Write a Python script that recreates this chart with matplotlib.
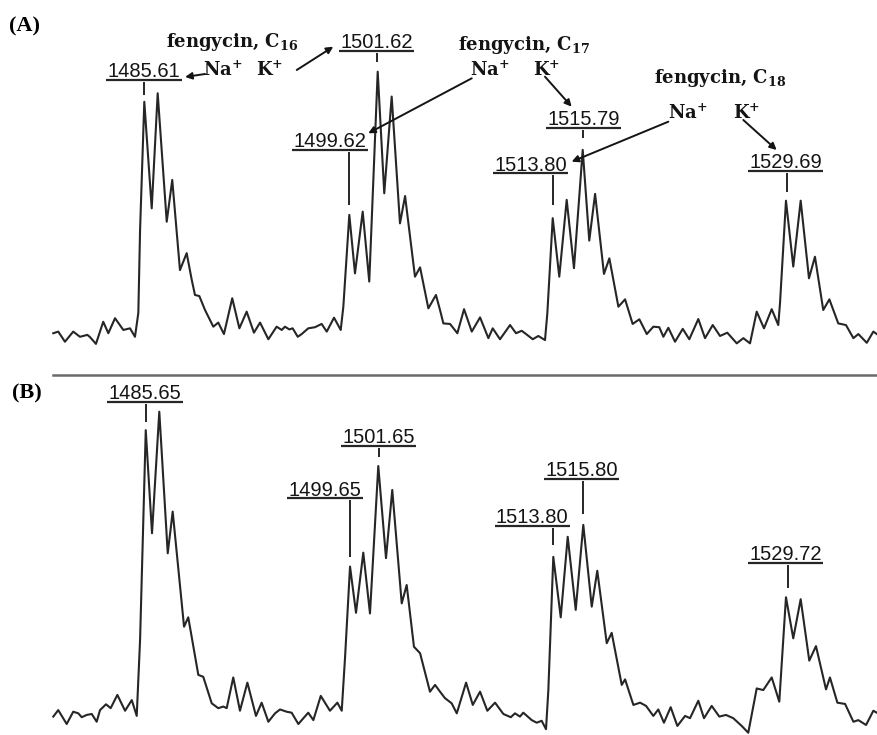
#
# Mass spectra of fengycin homologues (C16 - C18), Na+ and K+ adducts.
# Panel (A) and panel (B) share the same m/z window.
#

import numpy as np
import matplotlib.pyplot as plt
from matplotlib.lines import Line2D

LINE_COLOR = "#262626"
TEXT_COLOR = "#141414"
SEP_COLOR = "#6A6A6A"

MZ_RANGE = (1475.64, 1535.94)

# ---- panel A spectrum (m/z, relative intensity %) ----
MZ_A = [1479.30, 1479.64, 1480.10, 1480.67, 1481.13, 1481.36, 1481.64, 1481.82,
        1482.23, 1482.73, 1483.08, 1483.54, 1484.11, 1484.57, 1484.91, 1485.14,
        1485.26, 1485.55, 1486.06, 1486.47, 1487.09, 1487.47, 1488.00, 1488.46,
        1488.81, 1489.03, 1489.33, 1489.72, 1490.29, 1490.63, 1491.02, 1491.59,
        1492.08, 1492.58, 1493.08, 1493.50, 1494.07, 1494.64, 1494.99, 1495.21,
        1495.51, 1495.74, 1496.09, 1496.36, 1496.81, 1497.27, 1497.73, 1498.08,
        1498.58, 1499.04, 1499.22, 1499.63, 1500.02, 1500.55, 1501.00, 1501.58,
        1502.03, 1502.54, 1503.11, 1503.46, 1504.14, 1504.49, 1505.06, 1505.58,
        1505.86, 1506.09, 1506.55, 1507.05, 1507.51, 1508.04, 1508.61, 1509.18,
        1509.48, 1509.98, 1510.67, 1511.08, 1511.47, 1511.77, 1512.23, 1512.61,
        1513.07, 1513.23, 1513.60, 1514.05, 1514.56, 1515.06, 1515.66, 1516.11,
        1516.51, 1517.12, 1517.49, 1518.11, 1518.57, 1519.09, 1519.55, 1520.06,
        1520.51, 1520.92, 1521.20, 1521.54, 1522.00, 1522.53, 1522.98, 1523.60,
        1524.06, 1524.59, 1525.09, 1525.59, 1526.24, 1526.69, 1527.15, 1527.61,
        1528.11, 1528.64, 1529.09, 1529.21, 1529.62, 1530.12, 1530.63, 1531.20,
        1531.61, 1532.18, 1532.60, 1533.21, 1533.74, 1534.25, 1534.59, 1535.17,
        1535.62, 1535.94]
INT_A = [4.3, 4.9, 1.2, 4.9, 3.0, 3.3, 3.7, 2.9,
         0.4, 8.5, 4.3, 9.8, 5.5, 6.1, 3.0, 11.7,
         42.1, 89.0, 50.0, 92.1, 45.1, 60.4, 27.4, 33.6,
         23.8, 18.3, 17.9, 12.8, 6.7, 8.2, 4.0, 17.1,
         6.1, 12.2, 4.5, 8.2, 2.1, 6.7, 5.5, 6.7,
         5.7, 6.1, 3.0, 4.0, 6.1, 6.5, 7.7, 4.9,
         10.0, 5.5, 14.0, 47.6, 26.2, 48.8, 23.2, 100.0,
         55.5, 90.9, 44.5, 54.5, 25.0, 28.4, 13.4, 18.3,
         12.8, 7.9, 7.7, 4.3, 13.1, 4.9, 10.1, 2.5,
         6.1, 2.1, 7.3, 4.3, 5.2, 4.0, 2.1, 3.3,
         1.8, 11.6, 46.4, 25.0, 53.1, 28.1, 71.4, 38.2,
         55.3, 26.0, 31.7, 14.0, 16.7, 7.7, 9.4, 4.0,
         6.7, 6.5, 3.0, 6.3, 1.2, 5.9, 2.1, 9.5,
         2.5, 7.3, 3.3, 4.5, 0.6, 2.5, 0.6, 12.2,
         6.1, 13.1, 7.3, 15.3, 52.8, 28.7, 52.8, 24.4,
         32.3, 12.8, 16.7, 7.9, 7.3, 2.5, 4.0, 0.8,
         4.9, 3.7]

# ---- panel B spectrum ----
MZ_B = [1479.30, 1479.64, 1480.22, 1480.67, 1481.02, 1481.25, 1481.59, 1481.94,
        1482.28, 1482.51, 1482.92, 1483.24, 1483.70, 1484.23, 1484.69, 1485.03,
        1485.26, 1485.65, 1486.08, 1486.58, 1487.16, 1487.50, 1488.28, 1488.57,
        1489.26, 1489.60, 1490.18, 1490.63, 1490.98, 1491.21, 1491.66, 1492.12,
        1492.63, 1493.22, 1493.61, 1494.07, 1494.53, 1494.87, 1495.33, 1495.67,
        1496.13, 1496.81, 1497.16, 1497.67, 1498.30, 1498.81, 1499.11, 1499.34,
        1499.68, 1500.09, 1500.59, 1501.05, 1501.62, 1502.15, 1502.58, 1503.23,
        1503.57, 1504.07, 1504.49, 1505.17, 1505.52, 1505.86, 1506.20, 1506.66,
        1507.01, 1507.65, 1508.11, 1508.61, 1509.11, 1509.64, 1510.21, 1510.72,
        1511.01, 1511.35, 1511.58, 1512.16, 1512.50, 1512.84, 1513.14, 1513.30,
        1513.53, 1513.64, 1514.15, 1514.63, 1515.18, 1515.70, 1516.28, 1516.66,
        1517.31, 1517.65, 1518.34, 1518.57, 1519.14, 1519.60, 1520.01, 1520.51,
        1520.85, 1521.24, 1521.70, 1522.16, 1522.69, 1523.03, 1523.60, 1523.99,
        1524.52, 1525.04, 1525.50, 1526.00, 1526.58, 1527.03, 1527.61, 1528.06,
        1528.64, 1529.16, 1529.62, 1530.12, 1530.63, 1531.22, 1531.68, 1532.37,
        1532.64, 1533.15, 1533.68, 1534.25, 1534.59, 1535.12, 1535.62, 1535.94]
INT_B = [5.7, 7.7, 3.4, 7.2, 6.7, 5.5, 6.2, 6.5,
         4.1, 7.7, 9.5, 8.3, 12.4, 7.5, 10.8, 5.9,
         29.4, 94.3, 62.4, 100.0, 56.2, 69.1, 33.5, 36.4,
         18.6, 18.0, 9.8, 8.3, 8.8, 8.3, 17.8, 7.5,
         16.2, 5.9, 10.0, 4.1, 6.7, 7.9, 7.2, 6.9,
         3.4, 6.9, 4.6, 12.1, 7.5, 10.0, 7.5, 24.2,
         52.1, 37.8, 56.4, 37.6, 83.2, 54.7, 75.8, 40.7,
         46.4, 27.3, 25.3, 13.4, 15.5, 13.4, 11.4, 9.8,
         6.7, 16.2, 9.3, 13.4, 7.5, 10.0, 6.5, 5.5,
         6.7, 5.7, 6.9, 4.6, 3.8, 4.4, 1.8, 13.9,
         41.8, 55.1, 36.4, 61.3, 38.7, 65.0, 39.7, 50.8,
         28.4, 31.6, 15.5, 17.2, 9.3, 10.0, 9.0, 5.9,
         7.9, 3.8, 8.6, 2.8, 5.9, 5.2, 10.6, 5.2,
         9.0, 5.7, 6.2, 5.2, 2.8, 0.7, 14.4, 13.9,
         17.8, 10.3, 42.6, 29.9, 42.0, 23.0, 27.5, 14.1,
         17.8, 10.0, 9.6, 4.1, 4.6, 3.1, 7.5, 6.7]

# ---- peak labels: text and the m/z where the marker tick sits ----
LABELS_A = ["1485.61", "1501.62", "1499.62", "1513.80", "1515.79", "1529.69"]
TICKS_A = [1485.55, 1501.51, 1499.63, 1513.60, 1515.66, 1529.67]
LABELS_B = ["1485.65", "1501.65", "1499.65", "1513.80", "1515.80", "1529.72"]
TICKS_B = [1485.67, 1501.67, 1499.68, 1513.64, 1515.66, 1529.74]

# layout of the labels: (text centre m/z, underline height, tick lower end)
LAYOUT_A = [(1485.53, 96.96, 91.47), (1501.51, 107.68, 103.55),
            (1498.30, 71.35, 51.22), (1512.10, 62.82, 51.22),
            (1515.70, 79.51, 75.74), (1529.61, 63.67, 56.09)]
LAYOUT_B = [(1485.60, 103.09, 96.81), (1501.62, 89.39, 85.99),
            (1497.96, 73.21, 55.15), (1512.19, 64.74, 58.77),
            (1515.59, 79.18, 68.36), (1529.59, 53.29, 45.38)]

UNDERLINE_HALF = 2.58   # in m/z units

# fengycin homologue annotations in panel A: (text, x, baseline y)
SPECIES_TEXT = [(r"fengycin, C$_\mathbf{16}$", 1491.55, 109.0),
                (r"Na$^\mathbf{+}$", 1490.92, 98.4), (r"K$^\mathbf{+}$", 1494.15, 98.4),
                (r"fengycin, C$_\mathbf{17}$", 1511.64, 107.9),
                (r"Na$^\mathbf{+}$", 1509.29, 98.4), (r"K$^\mathbf{+}$", 1513.19, 98.4),
                (r"fengycin, C$_\mathbf{18}$", 1525.09, 95.75),
                (r"Na$^\mathbf{+}$", 1522.86, 82.6), (r"K$^\mathbf{+}$", 1526.92, 82.6)]

# arrows: (start, end)
ARROWS = [((1489.72, 99.16), (1488.35, 98.06)),
          ((1496.02, 100.62), (1498.53, 109.15)),
          ((1508.04, 97.58), (1500.93, 77.46)),
          ((1513.07, 98.17), (1514.90, 87.19)),
          ((1521.54, 81.70), (1514.90, 67.07)),
          ((1526.69, 82.33), (1528.98, 71.35))]


def drawPeakLabels(ax, labels, ticks, layout, gap):
    for text, tick, (cx, yul, ylow) in zip(labels, ticks, layout):
        ax.vlines(tick, ylow, yul - gap, color=LINE_COLOR, lw=1.4)
        ax.hlines(yul, cx - UNDERLINE_HALF, cx + UNDERLINE_HALF,
                  color=LINE_COLOR, lw=1.6)
        ax.annotate(text, (cx, yul), xytext=(0, 2), textcoords='offset points',
                    ha='center', va='baseline', fontsize=14.5,
                    family='Liberation Sans', color=TEXT_COLOR)


def main():
    plt.rcParams['mathtext.fontset'] = 'dejavuserif'

    fig = plt.figure(figsize=(8.78, 7.35), dpi=100)

    axA = fig.add_axes([0, 1 - 370 / 735, 1, 370 / 735])
    axB = fig.add_axes([0, 0, 1, 360 / 735])

    axA.plot(MZ_A, INT_A, color=LINE_COLOR, lw=1.5)
    axB.plot(MZ_B, INT_B, color=LINE_COLOR, lw=1.5)

    axA.set_xlim(MZ_RANGE)
    axB.set_xlim(MZ_RANGE)
    axA.set_ylim(-9.15, 126.23)
    axB.set_ylim(0, 111.35)

    drawPeakLabels(axA, LABELS_A, TICKS_A, LAYOUT_A, 0.7)
    drawPeakLabels(axB, LABELS_B, TICKS_B, LAYOUT_B, 0.6)

    for text, x, y in SPECIES_TEXT:
        axA.text(x, y, text, ha='center', va='baseline', fontsize=13,
                 family='DejaVu Serif', fontweight='bold', color=TEXT_COLOR)

    for start, end in ARROWS:
        axA.annotate("", xy=end, xytext=start,
                     arrowprops=dict(arrowstyle='-|>', color=TEXT_COLOR, lw=1.4,
                                     mutation_scale=10, shrinkA=0, shrinkB=0))

    for ax in (axA, axB):
        ax.axis('off')

    fig.text(25 / 878, 1 - 26 / 735, "(A)", ha='center', va='center',
             fontsize=16, fontweight='bold', family='Liberation Serif')
    fig.text(27 / 878, 1 - 393 / 735, "(B)", ha='center', va='center',
             fontsize=16, fontweight='bold', family='Liberation Serif')

    fig.add_artist(Line2D([53 / 878, 1], [1 - 375 / 735] * 2,
                          color=SEP_COLOR, lw=1.8))

    fig.savefig('out.png', dpi=100)


if __name__ == "__main__":
    main()
